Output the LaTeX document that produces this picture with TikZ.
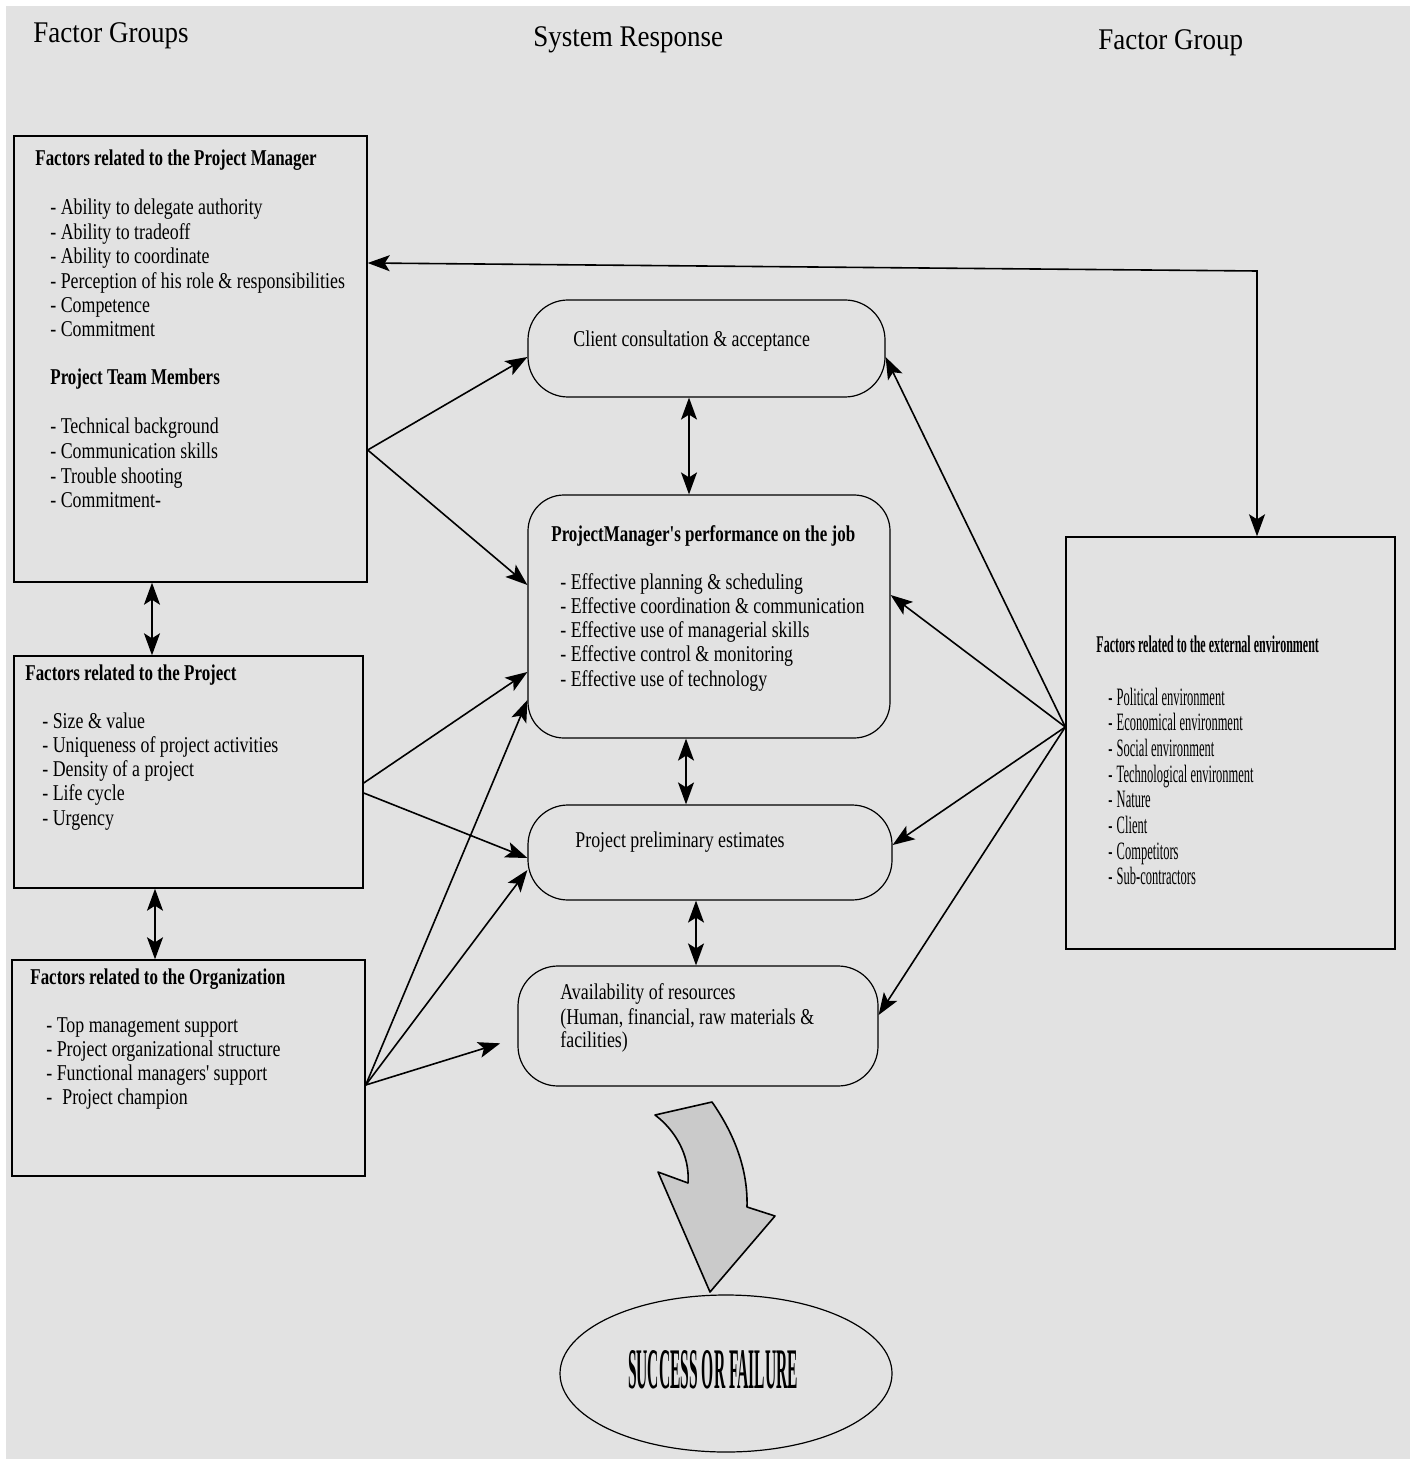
\documentclass[tikz,border=0pt]{standalone}
\usepackage{graphicx}
\usepackage{fontspec}
\setmainfont{Liberation Serif}
\newfontfamily\titlefont{Liberation Serif}[FakeStretch=0.9]
\newfontfamily\bodyfont{Liberation Serif}[FakeStretch=0.79]
\newfontfamily\headfont{Liberation Serif}[FakeStretch=0.75]
\newfontfamily\envfont{Liberation Serif}[FakeStretch=0.5]
\usetikzlibrary{arrows.meta,shapes.geometric}
\definecolor{paper}{HTML}{E2E2E2}
\definecolor{arrowfill}{HTML}{CACACA}

\tikzset{
  frame/.style={draw, line width=0.7pt, inner sep=0, rectangle},
  pill/.style={draw, line width=0.6pt, inner sep=0, rounded corners=20pt},
  link/.style={line width=0.8pt, -{Stealth[length=11pt,width=8pt,inset=2.5pt]}},
  both/.style={line width=0.8pt, {Stealth[length=11pt,width=8pt,inset=2.5pt]}-{Stealth[length=11pt,width=8pt,inset=2.5pt]}},
  ttl/.style={anchor=base west, inner sep=0, font=\titlefont\fontsize{15}{18}\selectfont},
  head/.style={anchor=base west, inner sep=0, font=\headfont\bfseries\fontsize{11.3}{13}\selectfont},
  item/.style={anchor=base west, inner sep=0, font=\bodyfont\fontsize{11.3}{13}\selectfont},
  envhead/.style={anchor=base west, inner sep=0, font=\envfont\bfseries\fontsize{12}{14}\selectfont},
  envitem/.style={anchor=base west, inner sep=0, font=\envfont\fontsize{12.5}{14}\selectfont},
}

\begin{document}
\begin{tikzpicture}[x=0.5pt,y=-0.5pt]
\useasboundingbox (0,0) rectangle (1416,1459);
\fill[white] (0,0) rectangle (1416,1459);
\fill[paper] (6,6) rectangle (1410,1459);

% column titles
\node[ttl] (t1) at (33,43) {Factor Groups};
\node[ttl] (t2) at (533,47) {System Response};
\node[ttl] (t3) at (1098,50) {Factor Group};

% factor boxes
\node[frame, minimum width=176.5pt, minimum height=223pt] (pm) at (190.5,359) {};
\node[frame, minimum width=174.5pt, minimum height=116pt] (proj) at (188.5,772) {};
\node[frame, minimum width=176.5pt, minimum height=108pt] (org) at (188.5,1068) {};
\node[frame, minimum width=164.5pt, minimum height=206pt] (env) at (1230.5,743) {};

% system response boxes
\node[pill, minimum width=178.5pt, minimum height=48.5pt] (client) at (706.5,348.5) {};
\node[pill, minimum width=181pt, minimum height=121.5pt, rounded corners=18pt] (perf) at (709,616.5) {};
\node[pill, minimum width=182pt, minimum height=47.5pt] (prelim) at (710,852.5) {};
\node[pill, minimum width=180pt, minimum height=60pt] (avail) at (698,1026) {};
\node[draw, ellipse, line width=0.6pt, minimum width=166pt, minimum height=78.5pt, inner sep=0] (result) at (726,1373.5) {};

% project manager factors
\node[head] (pm-head) at (35,166) {Factors related to the Project Manager};
\foreach \t [count=\i] in {Ability to delegate authority, Ability to tradeoff, Ability to coordinate,
  Perception of his role \& responsibilities, Competence, Commitment}
  \node[item] (pm-a\i) at (50,{215+24.4*(\i-1)}) {- \t};
\node[head] (team-head) at (50,385) {Project Team Members};
\foreach \t [count=\i] in {Technical background, Communication skills, Trouble shooting, Commitment-}
  \node[item] (team-a\i) at (50,{434+24.6*(\i-1)}) {- \t};

% project factors
\node[head] (proj-head) at (25,680) {Factors related to the Project};
\foreach \t [count=\i] in {Size \& value, Uniqueness of project activities, Density of a project, Life cycle, Urgency}
  \node[item] (proj-a\i) at (42,{728+24.25*(\i-1)}) {- \t};

% organization factors
\node[head] (org-head) at (30,984) {Factors related to the Organization};
\foreach \t [count=\i] in {Top management support, Project organizational structure, Functional managers' support}
  \node[item] (org-a\i) at (46,{1032+24*(\i-1)}) {- \t};
\node[item] (org-a4) at (46,1104) {-\hspace{5pt}Project champion};

% external environment factors
\node[envhead] (env-head) at (1096,652) {Factors related to the external environment};
\foreach \t [count=\i] in {Political environment, Economical environment, Social environment,
  Technological environment, Nature, Client, Competitors, Sub-contractors}
  \node[envitem] (env-a\i) at (1108,{705+25.7*(\i-1)}) {-\,\t};

% system response texts
\node[item] (client-text) at (573,347) {Client consultation \& acceptance};
\node[head] (perf-head) at (551,541) {ProjectManager's performance on the job};
\foreach \t [count=\i] in {Effective planning \& scheduling, Effective coordination \& communication,
  Effective use of managerial skills, Effective control \& monitoring, Effective use of technology}
  \node[item] (perf-a\i) at (560,{589+24.25*(\i-1)}) {- \t};
\node[item] (prelim-text) at (575,847) {Project preliminary estimates};
\node[item] (avail-a1) at (560,999) {Availability of resources};
\node[item] (avail-a2) at (560,1024) {(Human, financial, raw materials \&};
\node[item] (avail-a3) at (560,1047) {facilities)};
\node[anchor=base, inner sep=0] (verdict) at (713,1388) {\resizebox{85pt}{19pt}{\bfseries SUCCESS OR FAILURE}};

% feedback loop between the project manager and the external environment
\coordinate (bend) at (1257,271);
\draw[both] (pm.east |- 0,263) -- (bend) -- (env.north -| bend);

% factor groups feeding the system response
\draw[link] (pm.east |- 0,450) -- (client.west |- 0,357);
\draw[link] (pm.east |- 0,450) -- (perf.west |- 0,585);
\draw[link] (proj.east |- 0,783) -- (perf.west |- 0,672);
\draw[link] (proj.east |- 0,793) -- (prelim.west |- 0,858);
\draw[link] (org.east |- 0,1085) -- (perf.west |- 0,700);
\draw[link] (org.east |- 0,1085) -- (prelim.west |- 0,870);
\draw[link, shorten >=9pt] (org.east |- 0,1085) -- (avail.west |- 0,1038);
\draw[link] (env.west |- 0,727) -- (client.east |- 0,357);
\draw[link] (env.west |- 0,727) -- (perf.east |- 0,595);
\draw[link] (env.west |- 0,727) -- (prelim.east |- 0,845);
\draw[link] (env.west |- 0,727) -- (avail.east |- 0,1015);

% links inside the columns
\draw[both] (client.south -| 689,0) -- (perf.north -| 689,0);
\draw[both] (perf.south -| 686,0) -- (prelim.north -| 686,0);
\draw[both] (prelim.south -| 696,0) -- (avail.north -| 696,0);
\draw[both] (pm.south -| 152,0) -- (proj.north -| 152,0);
\draw[both] (proj.south -| 155,0) -- (org.north -| 155,0);

% curved block arrow towards the outcome
\filldraw[fill=arrowfill, line width=0.8pt, line join=round]
  (655,1115) -- (712,1102) .. controls (735,1135) and (748,1170) .. (747,1207)
  -- (775,1216) -- (710,1292) -- (658,1172) -- (688,1183)
  .. controls (690,1155) and (675,1130) .. (655,1115) -- cycle;
\end{tikzpicture}
\end{document}
